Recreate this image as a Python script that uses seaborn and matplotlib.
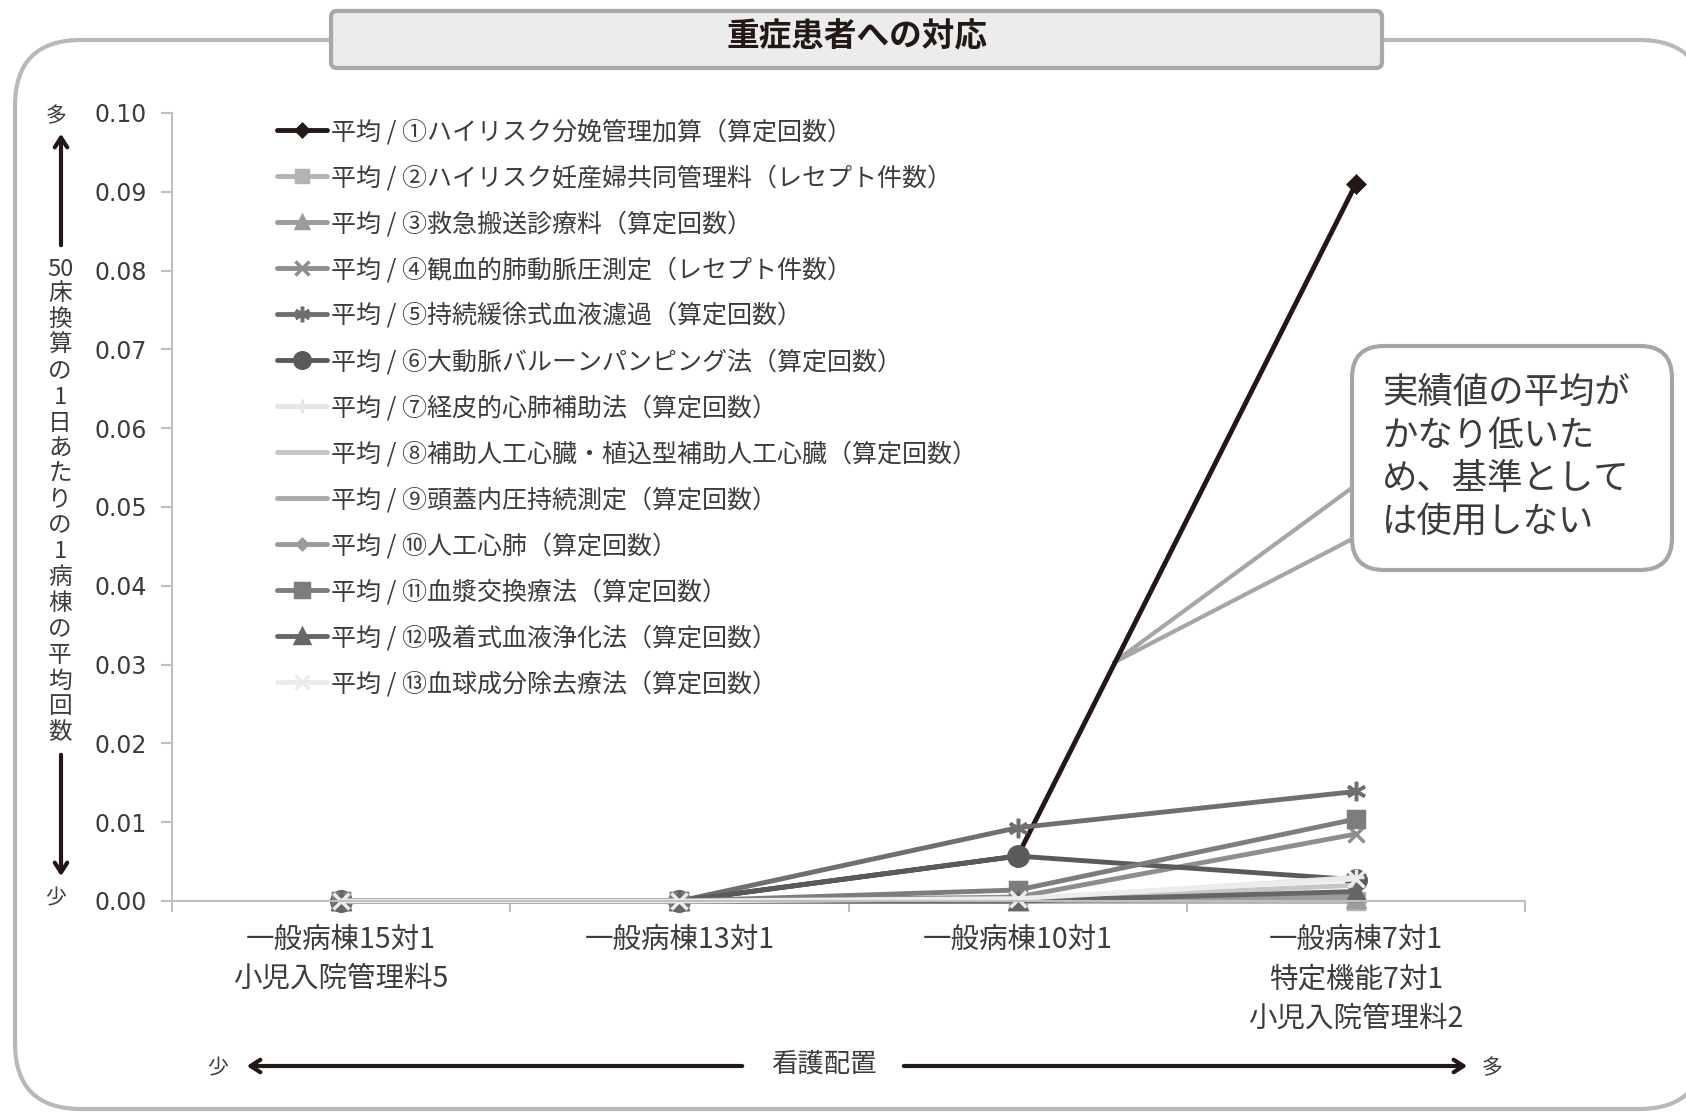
import numpy as np
import pandas as pd
import matplotlib
matplotlib.use("Agg")
import matplotlib.pyplot as plt
from matplotlib.patches import FancyBboxPatch, Polygon
import seaborn as sns

# categories (nursing ratio) and the 13 series
categories = ["一般病棟15対1\n小児入院管理料5", "一般病棟13対1",
              "一般病棟10対1", "一般病棟7対1\n特定機能7対1\n小児入院管理料2"]

series_names = [
    "平均 / ①ハイリスク分娩管理加算（算定回数）",
    "平均 / ②ハイリスク妊産婦共同管理料（レセプト件数）",
    "平均 / ③救急搬送診療料（算定回数）",
    "平均 / ④観血的肺動脈圧測定（レセプト件数）",
    "平均 / ⑤持続緩徐式血液濾過（算定回数）",
    "平均 / ⑥大動脈バルーンパンピング法（算定回数）",
    "平均 / ⑦経皮的心肺補助法（算定回数）",
    "平均 / ⑧補助人工心臓・植込型補助人工心臓（算定回数）",
    "平均 / ⑨頭蓋内圧持続測定（算定回数）",
    "平均 / ⑩人工心肺（算定回数）",
    "平均 / ⑪血漿交換療法（算定回数）",
    "平均 / ⑫吸着式血液浄化法（算定回数）",
    "平均 / ⑬血球成分除去療法（算定回数）",
]

s01 = [0.0, 0.0, 0.0057, 0.0910]
s02 = [0.0, 0.0, 0.0000, 0.0000]
s03 = [0.0, 0.0, 0.0000, 0.0003]
s04 = [0.0, 0.0, 0.0005, 0.0085]
s05 = [0.0, 0.0, 0.0093, 0.0139]
s06 = [0.0, 0.0, 0.0057, 0.0027]
s07 = [0.0, 0.0, 0.0002, 0.0030]
s08 = [0.0, 0.0, 0.0001, 0.0020]
s09 = [0.0, 0.0, 0.0001, 0.0010]
s10 = [0.0, 0.0, 0.0000, 0.0008]
s11 = [0.0, 0.0, 0.0014, 0.0104]
s12 = [0.0, 0.0, 0.0000, 0.0012]
s13 = [0.0, 0.0, 0.0003, 0.0028]
values = [s01, s02, s03, s04, s05, s06, s07, s08, s09, s10, s11, s12, s13]

colors = ["#231815", "#b3b3b3", "#9c9c9c", "#8e8e8e", "#6f6f6f", "#5a5a5a",
          "#e6e6e6", "#c6c6c6", "#a8a8a8", "#9a9a9a", "#7d7d7d", "#666666", "#ececec"]
markers = ["D", "s", "^", "x", (6, 2, 0), "o", "+", "", "", "D", "s", "^", "x"]
msizes = [8, 11, 11, 12, 14, 14, 12, 0, 0, 7, 12, 12, 12]

callout = ["実績値の平均が", "かなり低いた", "め、基準として", "は使用しない"]
ylabel_chars = list("床換算の1日あたりの1病棟の平均回数")

sns.set_style("white")
plt.rcParams["font.family"] = ["Noto Sans CJK JP", "DejaVu Sans"]

W, H = 1686, 1113
fig = plt.figure(figsize=(W / 100, H / 100), dpi=100)

# background layer in pixel coordinates for frame / title / annotations
bg = fig.add_axes([0, 0, 1, 1], zorder=0)
bg.set_xlim(0, W)
bg.set_ylim(H, 0)
bg.axis("off")

r = 66
bg.add_patch(FancyBboxPatch((15 + r, 40 + r), 1705 - 15 - 2 * r, 1109 - 40 - 2 * r,
                            boxstyle="round,pad=%d" % r, fc="white", ec="#b8b8b8", lw=3))
bg.add_patch(FancyBboxPatch((331 + 6, 11 + 6), 1382 - 331 - 12, 68 - 11 - 12,
                            boxstyle="round,pad=6", fc="#ececec", ec="#a8a8a8", lw=3))
bg.text(857, 37, "重症患者への対応", ha="center", va="center",
        fontsize=23.5, fontweight="bold", color="#231815")

# callout with tail
bg.add_patch(Polygon([(1113, 663), (1360, 482), (1360, 535)], closed=True,
                     fc="white", ec="#a6a6a6", lw=3, zorder=2))
bg.add_patch(FancyBboxPatch((1352 + 32, 346 + 32), 1672 - 1352 - 64, 570 - 346 - 64,
                            boxstyle="round,pad=32", fc="white", ec="#a6a6a6", lw=3, zorder=3))
for i, line in enumerate(callout):
    bg.text(1382, 393 + i * 43, line, ha="left", va="center", fontsize=25.5,
            color="#3c3c3c", zorder=4)

# vertical y label with arrows
arrow_kw = dict(arrowstyle="->,head_length=0.7,head_width=0.45", lw=3, color="#231815")
bg.text(56, 116, "多", ha="center", va="center", fontsize=15, color="#3c3c3c")
bg.annotate("", xy=(61, 131), xytext=(61, 248), arrowprops=arrow_kw)
bg.text(60, 269, "50", ha="center", va="center", fontsize=17, color="#3c3c3c")
for i, ch in enumerate(ylabel_chars):
    bg.text(60, 294 + i * 25.8, ch, ha="center", va="center", fontsize=17, color="#3c3c3c")
bg.annotate("", xy=(61, 879), xytext=(61, 752), arrowprops=arrow_kw)
bg.text(56, 898, "少", ha="center", va="center", fontsize=15, color="#3c3c3c")

# bottom x annotation
bg.text(218, 1068, "少", ha="center", va="center", fontsize=15, color="#3c3c3c")
bg.annotate("", xy=(244, 1066), xytext=(745, 1066), arrowprops=arrow_kw)
bg.text(824, 1064, "看護配置", ha="center", va="center", fontsize=19, color="#3c3c3c")
bg.annotate("", xy=(1470, 1066), xytext=(901, 1066), arrowprops=arrow_kw)
bg.text(1492, 1068, "多", ha="center", va="center", fontsize=15, color="#3c3c3c")

# main chart
ax = fig.add_axes([172 / W, 1 - 901 / H, (1525 - 172) / W, (901 - 113) / H], zorder=1)
ax.set_facecolor("none")
xpos = np.arange(len(categories)) + 0.5
for name, vals, c, m, ms in zip(series_names, values, colors, markers, msizes):
    df = pd.DataFrame({"x": xpos, "y": vals})
    sns.lineplot(data=df, x="x", y="y", ax=ax, color=c, lw=3.5, marker=m,
                 markersize=ms, markeredgecolor=c, markeredgewidth=2.5, label=name,
                 clip_on=False)

ax.set_xlim(0, 4)
ax.set_ylim(0, 0.10)
ax.set_yticks(np.arange(0, 0.101, 0.01))
ax.yaxis.set_major_formatter(matplotlib.ticker.FormatStrFormatter("%.2f"))
for t in ax.get_yticklabels():
    t.set_fontfamily("DejaVu Sans")
ax.set_xticks(np.arange(0, 5))
ax.set_xticklabels([])
ax.set_xticks(xpos, minor=True)
ax.set_xticklabels(categories, minor=True, fontsize=20.5, color="#3c3c3c", linespacing=1.41)
ax.tick_params(axis="x", which="major", length=8, color="#bfbfbf", width=1.5, direction="out")
ax.tick_params(axis="x", which="minor", length=0, pad=17)
ax.tick_params(axis="y", length=8, color="#bfbfbf", width=1.5, direction="out",
               pad=10, labelsize=17, labelcolor="#3c3c3c", labelfontfamily="DejaVu Sans")
ax.tick_params(bottom=True, left=True)
for side in ["top", "right"]:
    ax.spines[side].set_visible(False)
for side in ["left", "bottom"]:
    ax.spines[side].set_color("#bfbfbf")
    ax.spines[side].set_linewidth(1.5)
ax.set_xlabel("")
ax.set_ylabel("")

leg = ax.legend(loc="upper left", bbox_to_anchor=(277 / W, 1 - 119 / H),
                bbox_transform=fig.transFigure, frameon=False, fontsize=18,
                handlelength=2.0, handletextpad=0.15, labelspacing=0.8, borderpad=0,
                borderaxespad=0, markerscale=0.8)
for t in leg.get_texts():
    t.set_color("#3c3c3c")

fig.savefig("out.png", dpi=100)
